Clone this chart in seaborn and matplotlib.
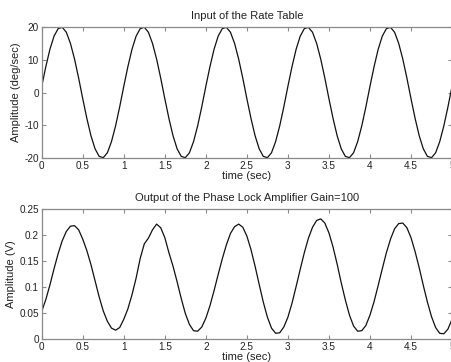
import numpy as np
import pandas as pd
import matplotlib
matplotlib.use("Agg")
import matplotlib.pyplot as plt
import seaborn as sns
from matplotlib.ticker import FormatStrFormatter, FixedLocator

# ---- data ----
time_sec = np.linspace(0, 5, 101)

input_rate = [
    1.9, 7.9, 13.2, 17.2, 19.5, 19.9, 18.4, 15.0, 10.2, 4.4,
    -1.9, -7.9, -13.2, -17.2, -19.5, -19.9, -18.4, -15.0, -10.2, -4.4,
    1.9, 7.9, 13.2, 17.2, 19.5, 19.9, 18.4, 15.0, 10.2, 4.4,
    -1.9, -7.9, -13.2, -17.2, -19.5, -19.9, -18.4, -15.0, -10.2, -4.4,
    1.9, 7.9, 13.2, 17.2, 19.5, 19.9, 18.4, 15.0, 10.2, 4.4,
    -1.9, -7.9, -13.2, -17.2, -19.5, -19.9, -18.4, -15.0, -10.2, -4.4,
    1.9, 7.9, 13.2, 17.2, 19.5, 19.9, 18.4, 15.0, 10.2, 4.4,
    -1.9, -7.9, -13.2, -17.2, -19.5, -19.9, -18.4, -15.0, -10.2, -4.4,
    1.9, 7.9, 13.2, 17.2, 19.5, 19.9, 18.4, 15.0, 10.2, 4.4,
    -1.9, -7.9, -13.2, -17.2, -19.5, -19.9, -18.4, -15.0, -10.2, -4.4,
    1.9,
]

output_volt = [
    0.053, 0.076, 0.104, 0.135, 0.164, 0.189, 0.207, 0.217, 0.218, 0.210,
    0.192, 0.170, 0.143, 0.112, 0.081, 0.054, 0.034, 0.021, 0.017, 0.022,
    0.038, 0.058, 0.085, 0.117, 0.155, 0.183, 0.194, 0.210, 0.221, 0.214,
    0.195, 0.166, 0.140, 0.110, 0.078, 0.049, 0.028, 0.016, 0.015, 0.023,
    0.040, 0.064, 0.093, 0.124, 0.154, 0.181, 0.203, 0.216, 0.221, 0.215,
    0.198, 0.172, 0.140, 0.105, 0.071, 0.042, 0.021, 0.011, 0.012, 0.023,
    0.042, 0.069, 0.101, 0.134, 0.166, 0.194, 0.215, 0.228, 0.231, 0.223,
    0.204, 0.177, 0.144, 0.108, 0.075, 0.046, 0.025, 0.015, 0.016, 0.026,
    0.046, 0.072, 0.103, 0.135, 0.166, 0.192, 0.212, 0.222, 0.223, 0.214,
    0.195, 0.168, 0.137, 0.103, 0.071, 0.043, 0.022, 0.011, 0.010, 0.019,
    0.038,
]

x_ticks = [0, 0.5, 1, 1.5, 2, 2.5, 3, 3.5, 4, 4.5, 5]
top_yticks = [-20, -10, 0, 10, 20]
bot_yticks = [0, 0.05, 0.1, 0.15, 0.2, 0.25]

top_title = "Input of the Rate Table"
bot_title = "Output of the Phase Lock Amplifier Gain=100"
x_label = "time (sec)"
top_ylabel = "Amplitude (deg/sec)"
bot_ylabel = "Amplitude (V)"

# ---- style ----
sns.set_style("ticks")
plt.rcParams["font.family"] = ["Liberation Sans", "DejaVu Sans"]
plt.rcParams["font.size"] = 8
text_col = "#222222"
frame_col = "#8a8a8a"

fig = plt.figure(figsize=(4.51, 3.62), dpi=100)
ax1 = fig.add_axes([0.0925, 0.5635, 0.9098, 0.3619])
ax2 = fig.add_axes([0.0925, 0.0635, 0.9098, 0.3591])

df_top = pd.DataFrame({"t": time_sec, "v": input_rate})
df_bot = pd.DataFrame({"t": time_sec, "v": output_volt})

sns.lineplot(data=df_top, x="t", y="v", ax=ax1, color="#111111", linewidth=0.9)
sns.lineplot(data=df_bot, x="t", y="v", ax=ax2, color="#111111", linewidth=0.9)

def style(ax, yticks, ylim, title, ylabel, yfmt):
    ax.set_xlim(0, 5)
    ax.set_ylim(*ylim)
    ax.xaxis.set_major_locator(FixedLocator(x_ticks))
    ax.yaxis.set_major_locator(FixedLocator(yticks))
    ax.xaxis.set_major_formatter(FormatStrFormatter("%g"))
    ax.yaxis.set_major_formatter(FormatStrFormatter(yfmt))
    ax.tick_params(direction="in", length=3, width=0.8, top=True, right=True,
                   colors=frame_col, labelcolor=text_col, labelsize=7.2, pad=2)
    for sp in ax.spines.values():
        sp.set_visible(True)
        sp.set_color(frame_col)
        sp.set_linewidth(0.9)
    ax.set_title(title, fontsize=8, color=text_col, pad=6)
    ax.set_xlabel(x_label, fontsize=8, color=text_col, labelpad=0)
    ax.set_ylabel(ylabel, fontsize=8, color=text_col, labelpad=2.5)

style(ax1, top_yticks, (-20, 20), top_title, top_ylabel, "%g")
style(ax2, bot_yticks, (0, 0.25), bot_title, bot_ylabel, "%g")

fig.savefig("out.png", dpi=100)
